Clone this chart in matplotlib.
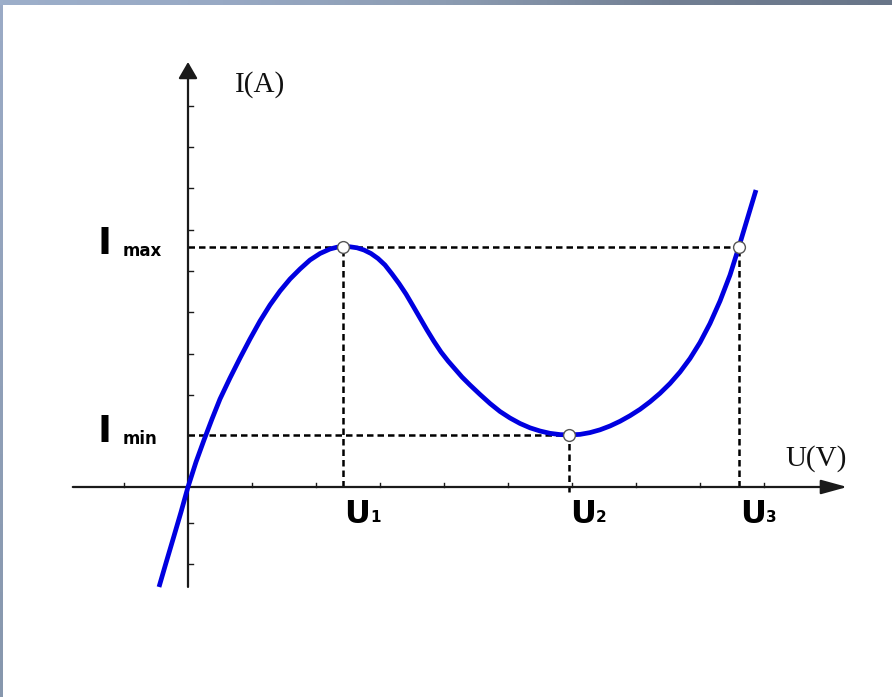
import numpy as np
import matplotlib.pyplot as plt
from matplotlib.colors import LinearSegmentedColormap

# I-U characteristic (U in tick units along the voltage axis, I in tick units along the current axis)
curve_u = [-0.453, -0.344, -0.219, -0.109, 0.0, 0.125, 0.25, 0.375, 0.5, 0.656,
           0.813, 0.969, 1.125, 1.281, 1.438, 1.594, 1.75, 1.906, 2.063, 2.219,
           2.328, 2.422, 2.531, 2.641, 2.75, 2.859, 2.969, 3.078, 3.188, 3.297,
           3.406, 3.516, 3.625, 3.734, 3.844, 3.953, 4.063, 4.172, 4.281, 4.406,
           4.563, 4.719, 4.875, 5.031, 5.188, 5.344, 5.5, 5.656, 5.813, 5.953,
           6.125, 6.281, 6.438, 6.594, 6.75, 6.906, 7.063, 7.219, 7.375, 7.531,
           7.688, 7.844, 8.0, 8.156, 8.313, 8.469, 8.609, 8.734, 8.875]
curve_i = [-2.421, -1.840, -1.186, -0.605, 0.0, 0.605, 1.138, 1.646, 2.131, 2.639,
           3.123, 3.584, 4.019, 4.407, 4.746, 5.036, 5.278, 5.496, 5.654, 5.763,
           5.806, 5.82, 5.816, 5.792, 5.738, 5.654, 5.533, 5.375, 5.157, 4.927,
           4.673, 4.383, 4.092, 3.801, 3.523, 3.269, 3.051, 2.857, 2.663, 2.470,
           2.240, 2.022, 1.828, 1.671, 1.538, 1.433, 1.356, 1.300, 1.269, 1.26,
           1.274, 1.317, 1.385, 1.477, 1.591, 1.726, 1.881, 2.063, 2.269, 2.506,
           2.785, 3.111, 3.499, 3.959, 4.504, 5.133, 5.82, 6.465, 7.191]

u_marks = [2.422, 5.953, 8.609]
u_labels = ["U", "U", "U"]
u_subscripts = ["1", "2", "3"]
i_max = 5.82
i_min = 1.26

x_ticks = [-1, 1, 2, 3, 4, 5, 6, 7, 8, 9]
y_ticks = [-1.87, -0.87, 2.23, 3.23, 4.23, 5.23, 6.23, 7.23, 8.23, 9.23]

# pixel scale of one unit along each axis, and where the origin sits
PX_X, PX_Y = 64.0, 41.3
ORIGIN_X, ORIGIN_Y = 188.0, 487.0
W, H = 892, 697

fig = plt.figure(figsize=(W / 100, H / 100), dpi=100)
ax = fig.add_axes([0, 0, 1, 1])
ax.set_xlim(-ORIGIN_X / PX_X, (W - ORIGIN_X) / PX_X)
ax.set_ylim(-(H - ORIGIN_Y) / PX_Y, ORIGIN_Y / PX_Y)
ax.axis("off")

axis_color = "#1a1a1a"

# coordinate axes with arrowheads
ax.annotate("", xy=(10.30, 0), xytext=(-1.80, 0),
            arrowprops=dict(arrowstyle="-|>,head_length=0.8,head_width=0.22",
                            mutation_scale=20, color=axis_color, lw=1.6,
                            shrinkA=0, shrinkB=0))
ax.annotate("", xy=(0, 10.29), xytext=(0, -2.42),
            arrowprops=dict(arrowstyle="-|>,head_length=0.5,head_width=0.29",
                            mutation_scale=20, color=axis_color, lw=1.6,
                            shrinkA=0, shrinkB=0))

# small ticks: above the U axis, to the right of the I axis
tick_dy = 4 / PX_Y
tick_dx = 5 / PX_X
for t in x_ticks:
    ax.plot([t, t], [0, tick_dy], color=axis_color, lw=1.0)
for t in y_ticks:
    ax.plot([0, tick_dx], [t, t], color=axis_color, lw=1.0)

# dashed guide lines
dash = dict(color="black", lw=1.8, linestyle=(0, (2.6, 1.6)), zorder=2)
ax.plot([0, u_marks[2]], [i_max, i_max], **dash)
ax.plot([0, u_marks[1]], [i_min, i_min], **dash)
ax.plot([u_marks[0], u_marks[0]], [0, i_max], **dash)
ax.plot([u_marks[1], u_marks[1]], [-0.12, i_min], **dash)
ax.plot([u_marks[2], u_marks[2]], [0, i_max], **dash)

# characteristic curve
ax.plot(curve_u, curve_i, color="#0000e0", lw=3.4, solid_capstyle="butt",
        solid_joinstyle="round", zorder=3)

# marked points
ax.plot(u_marks, [i_max, i_min, i_max], "o", ms=8.5, mfc="white",
        mec="#555555", mew=1.0, zorder=4)

# axis names
ax.text(0.73, 9.58, "I(A)", family="Liberation Serif", fontsize=21,
        ha="left", va="baseline", color="#111111")
ax.text(9.33, 0.52, "U(V)", family="Liberation Serif", fontsize=21,
        ha="left", va="baseline", color="#111111")

# I_max / I_min labels
for val, sub in [(i_max, "max"), (i_min, "min")]:
    ax.text(-1.31, val + 0.07, "I", family="DejaVu Sans", weight="bold",
            fontsize=27, ha="center", va="center", color="black")
    ax.text(-1.02, val - 0.22, sub, family="DejaVu Sans", weight="bold",
            fontsize=12, ha="left", va="baseline", color="black")

# U1 / U2 / U3 labels
for u, lab, sub in zip(u_marks, u_labels, u_subscripts):
    ax.text(u + 0.02, -0.87, lab, family="DejaVu Sans", weight="bold",
            fontsize=23, ha="left", va="baseline", color="black")
    ax.text(u + 0.42, -0.85, sub, family="DejaVu Sans", weight="bold",
            fontsize=11, ha="left", va="baseline", color="black")

# window-style border along the top and left edges
top_cmap = LinearSegmentedColormap.from_list(
    "top", ["#9dafca", "#98a9c4", "#8c9cb2", "#727f93", "#687588"])
left_cmap = LinearSegmentedColormap.from_list("left", ["#9babc6", "#8797ad"])
top = fig.add_axes([0, 1 - 5 / H, 1, 5 / H])
top.imshow(np.linspace(0, 1, 256)[None, :], cmap=top_cmap, aspect="auto")
top.axis("off")
left = fig.add_axes([0, 0, 3 / W, 1 - 5 / H])
left.imshow(np.linspace(0, 1, 256)[:, None], cmap=left_cmap, aspect="auto")
left.axis("off")

fig.savefig("out.png", dpi=100)
